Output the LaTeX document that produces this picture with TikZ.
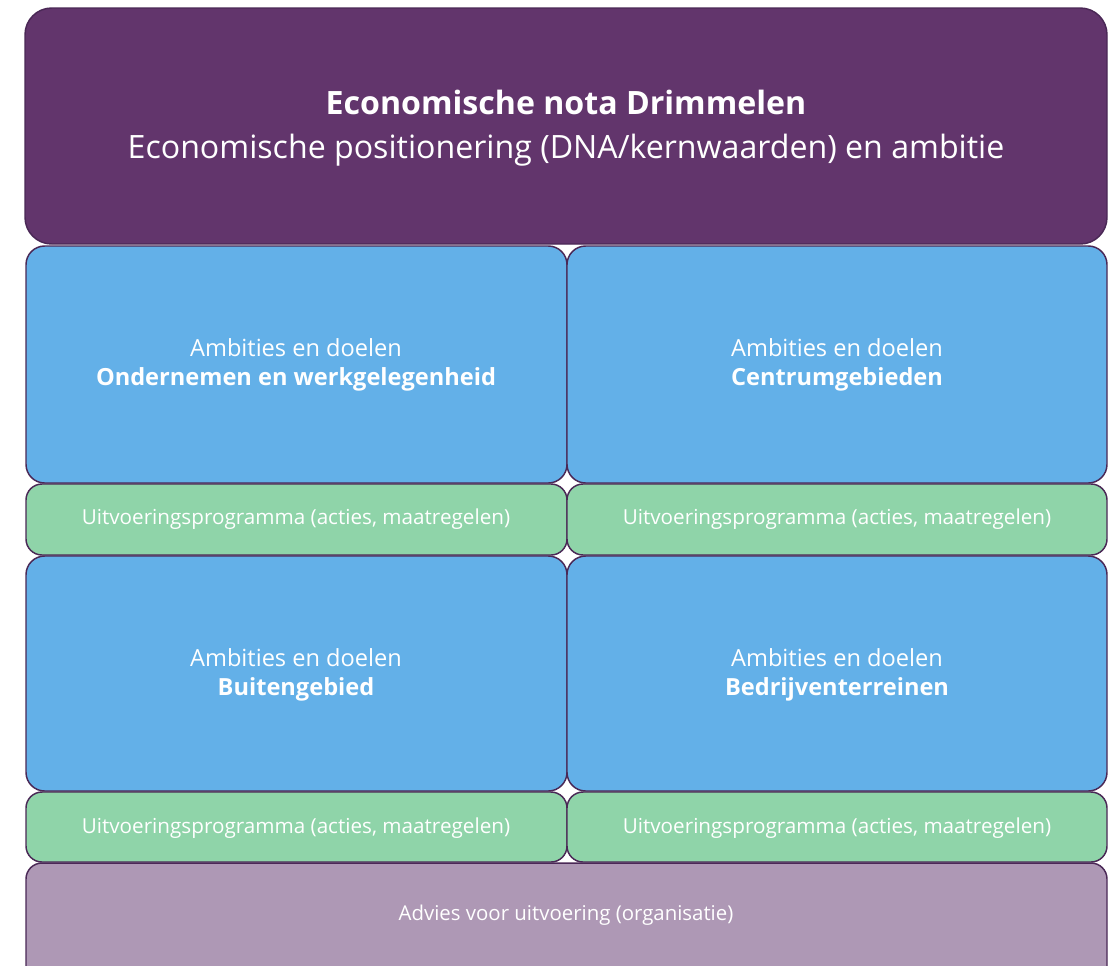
\documentclass[tikz,border=0pt]{standalone}
\usepackage{fontspec}
\setmainfont{Open Sans}
\definecolor{topPurple}{HTML}{62356C}
\definecolor{boxBlue}{HTML}{63B0E8}
\definecolor{boxGreen}{HTML}{8FD4A9}
\definecolor{lowPurple}{HTML}{AE98B5}
\definecolor{edgePurple}{HTML}{4A2856}
\begin{document}
\begin{tikzpicture}[x=0.75pt,y=-0.75pt,
  panel/.style={draw=edgePurple,line width=1.1pt,rounded corners=14pt,text=white,align=center,inner sep=0pt},
  ambbox/.style={panel,fill=boxBlue},
  progbox/.style={panel,fill=boxGreen,rounded corners=12pt},
  ambtext/.style={text=white,align=center,font=\fontsize{17.7}{21.75}\selectfont},
  progtext/.style={text=white,font=\fontsize{15.5}{18}\selectfont},
  ]
\useasboundingbox (0,0) rectangle (1117,965);
\clip (0,0) rectangle (1117,965);
\fill[white] (0,0) rectangle (1117,965);
% top
\draw[panel,fill=topPurple,rounded corners=20pt] (25,8) rectangle (1107,244);
\node[text=white,align=center,font=\fontsize{24.1}{33}\selectfont] (top) at (566,128)
  {\textbf{Economische nota Drimmelen}\\Economische positionering (DNA/kernwaarden) en ambitie};
% blue row 1
\draw[ambbox] (26,246) rectangle (567,483);
\node[ambtext] (a1) at (296,365) {Ambities en doelen\\\textbf{Ondernemen en werkgelegenheid}};
\draw[ambbox] (567,246) rectangle (1107,483);
\node[ambtext] (a2) at (837,365) {Ambities en doelen\\\textbf{Centrumgebieden}};
% green row 1
\draw[progbox] (26,484) rectangle (567,555);
\node[progtext] (p1) at (296,519) {Uitvoeringsprogramma (acties, maatregelen)};
\draw[progbox] (567,484) rectangle (1107,555);
\node[progtext] (p2) at (837,519) {Uitvoeringsprogramma (acties, maatregelen)};
% blue row 2
\draw[ambbox] (26,556) rectangle (567,791);
\node[ambtext] (a3) at (296,675) {Ambities en doelen\\\textbf{Buitengebied}};
\draw[ambbox] (567,556) rectangle (1107,791);
\node[ambtext] (a4) at (837,675) {Ambities en doelen\\\textbf{Bedrijventerreinen}};
% green row 2
\draw[progbox] (26,792) rectangle (567,862);
\node[progtext] (p3) at (296,828) {Uitvoeringsprogramma (acties, maatregelen)};
\draw[progbox] (567,792) rectangle (1107,862);
\node[progtext] (p4) at (837,828) {Uitvoeringsprogramma (acties, maatregelen)};
% bottom
\draw[panel,fill=lowPurple,rounded corners=12pt] (26,863) rectangle (1107,1000);
\node[text=white,font=\fontsize{15.3}{18}\selectfont] (adv) at (566,915) {Advies voor uitvoering (organisatie)};
\end{tikzpicture}
\end{document}
